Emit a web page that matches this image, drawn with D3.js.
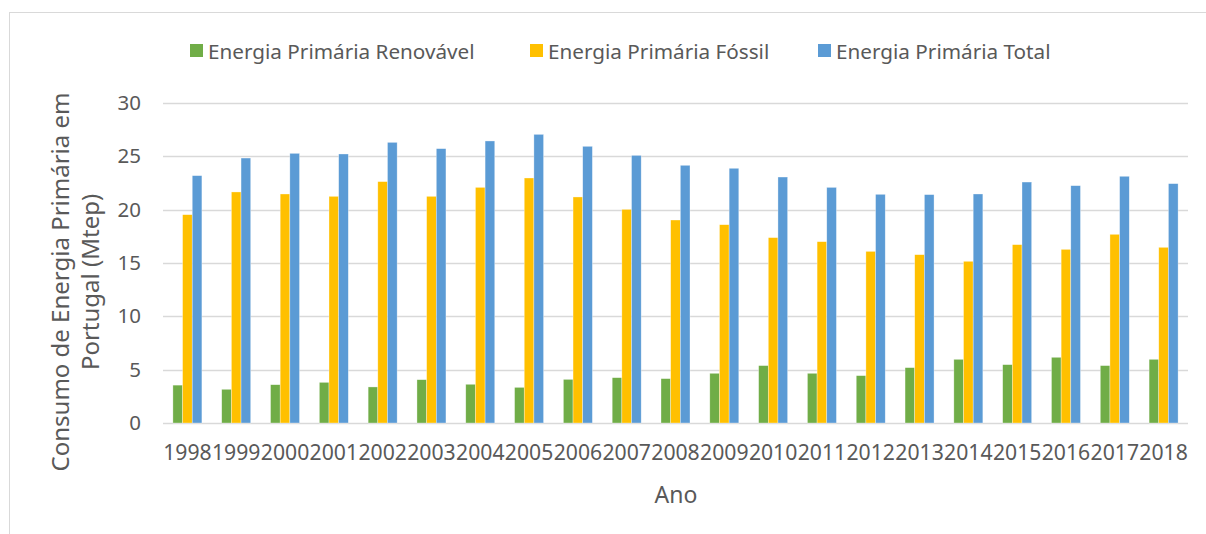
<!DOCTYPE html>
<html>
<head>
<meta charset="utf-8">
<script src="https://cdn.jsdelivr.net/npm/d3@7"></script>
<style>
  html, body { margin: 0; padding: 0; background: #fff; }
  svg { display: block; }
  text { font-family: "Noto Sans", "Open Sans", sans-serif; fill: #595959; }
</style>
</head>
<body>
<svg id="chart" width="1206" height="534"></svg>
<script>
// Primary energy consumption in Portugal (Mtep), 1998–2018
const years = ["1998","1999","2000","2001","2002","2003","2004","2005","2006","2007",
               "2008","2009","2010","2011","2012","2013","2014","2015","2016","2017","2018"];
const renovavel = [3.55, 3.16, 3.59, 3.81, 3.38, 4.06, 3.63, 3.34, 4.09, 4.25,
                   4.16, 4.66, 5.38, 4.66, 4.44, 5.19, 5.97, 5.47, 6.16, 5.38, 5.97];
const fossil    = [19.53, 21.66, 21.47, 21.25, 22.63, 21.25, 22.09, 22.97, 21.19, 20.03,
                   19.03, 18.59, 17.38, 17.00, 16.09, 15.78, 15.16, 16.72, 16.28, 17.69, 16.47];
const total     = [23.19, 24.84, 25.28, 25.22, 26.31, 25.72, 26.44, 27.06, 25.94, 25.09,
                   24.16, 23.88, 23.06, 22.09, 21.44, 21.41, 21.47, 22.59, 22.25, 23.13, 22.44];
const seriesNames = ["Energia Primária Renovável", "Energia Primária Fóssil", "Energia Primária Total"];
const seriesColors = ["#70AD47", "#FFC000", "#5B9BD5"];
const yTicks = [0, 5, 10, 15, 20, 25, 30];

const seriesValues = [renovavel, fossil, total];
const rows = years.map((y, i) => ({ year: y, values: seriesValues.map(s => s[i]) }));

const svg = d3.select("#chart");

// chart frame
svg.append("rect")
  .attr("x", 9.5).attr("y", 12.5)
  .attr("width", 1220).attr("height", 540)
  .attr("fill", "none").attr("stroke", "#D9D9D9").attr("stroke-width", 1);

const plot = { left: 163, right: 1188, top: 103, bottom: 423 };

const x = d3.scaleBand()
  .domain(years)
  .range([plot.left, plot.right])
  .paddingInner(0.406)
  .paddingOuter(0.203);

const xs = d3.scaleBand()
  .domain(d3.range(seriesNames.length))
  .range([0, x.bandwidth()]);

const y = d3.scaleLinear().domain([0, 30]).range([plot.bottom, plot.top]);

// gridlines
svg.append("g")
  .selectAll("line")
  .data(yTicks)
  .join("line")
  .attr("x1", plot.left).attr("x2", plot.right)
  .attr("y1", d => Math.round(y(d)) + 0.5).attr("y2", d => Math.round(y(d)) + 0.5)
  .attr("stroke", "#D9D9D9").attr("stroke-width", 1.3);

// y axis labels
const yAxis = svg.append("g")
  .attr("transform", `translate(${plot.left},0)`)
  .call(d3.axisLeft(y).tickValues(yTicks).tickSize(0).tickPadding(22));
yAxis.select(".domain").remove();
yAxis.selectAll("text")
  .style("font-size", "20.5px")
  .attr("fill", "#595959");

// bars
const groups = svg.append("g")
  .selectAll("g")
  .data(rows)
  .join("g")
  .attr("transform", d => `translate(${x(d.year)},0)`);

groups.selectAll("rect")
  .data(d => d.values.map((v, k) => ({ k, v })))
  .join("rect")
  .attr("x", d => xs(d.k))
  .attr("width", xs.bandwidth())
  .attr("y", d => y(d.v))
  .attr("height", d => y(0) - y(d.v))
  .attr("fill", d => seriesColors[d.k])
  .attr("stroke", "#ffffff")
  .attr("stroke-opacity", 0.55)
  .attr("stroke-width", 0.6);

// x axis labels
const xAxis = svg.append("g")
  .attr("transform", `translate(0,${plot.bottom})`)
  .call(d3.axisBottom(x).tickSize(0).tickPadding(22));
xAxis.select(".domain").remove();
xAxis.selectAll("text")
  .style("font-size", "21.2px")
  .attr("fill", "#595959");

// axis titles
svg.append("text")
  .attr("x", 676).attr("y", 494)
  .attr("text-anchor", "middle")
  .attr("dominant-baseline", "central")
  .style("font-size", "23px")
  .text("Ano");

const yTitle = svg.append("text")
  .attr("transform", "translate(76,282) rotate(-90)")
  .attr("text-anchor", "middle")
  .style("font-size", "24px");
yTitle.append("tspan").attr("x", 0).attr("dy", "-0.3em").text("Consumo de Energia Primária em");
yTitle.append("tspan").attr("x", 0).attr("dy", "1.25em").text("Portugal (Mtep)");

// legend
const legendX = [190, 530, 818];
const legend = svg.append("g")
  .selectAll("g")
  .data(seriesNames)
  .join("g")
  .attr("transform", (d, i) => `translate(${legendX[i]},44)`);
legend.append("rect")
  .attr("width", 13).attr("height", 13)
  .attr("fill", (d, i) => seriesColors[i]);
legend.append("text")
  .attr("x", 18).attr("y", 7)
  .attr("dominant-baseline", "central")
  .style("font-size", "20.7px")
  .text(d => d);
</script>
</body>
</html>
